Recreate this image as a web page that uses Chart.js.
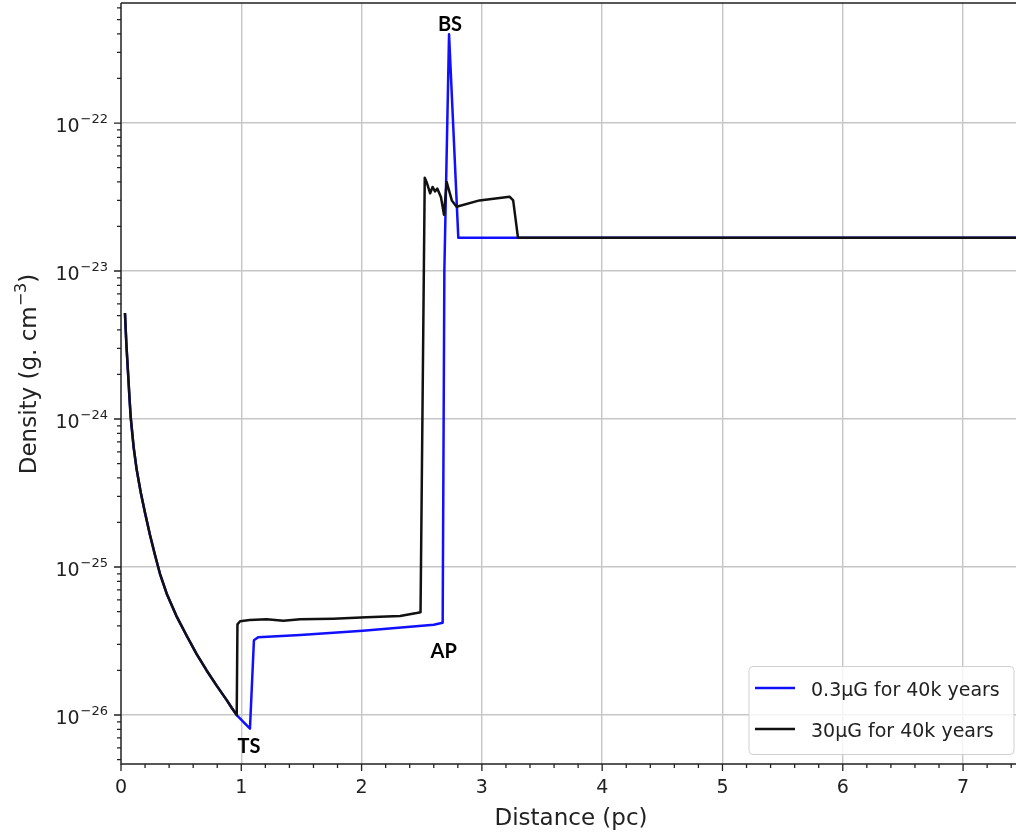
<!DOCTYPE html>
<html>
<head>
<meta charset="utf-8">
<script src="https://cdn.jsdelivr.net/npm/chart.js@4"></script>
<style>
  body { margin: 0; background: #fff; }
  canvas { display: block; }
</style>
</head>
<body>
<canvas id="myChart" width="1016" height="835"></canvas>
<script>
// 0.3 microgauss run (blue)
const distBlue = [0.033, 0.045, 0.061, 0.07, 0.081, 0.105, 0.13, 0.165, 0.20, 0.24, 0.283, 0.324, 0.38, 0.46, 0.546,
  0.63, 0.712, 0.795, 0.879, 0.92, 0.962,
  1.072, 1.105, 1.14, 1.49, 2.01, 2.60, 2.674, 2.688, 2.727, 2.804, 7.5];
const densBlue = [5.2e-24, 3.16e-24, 1.9e-24, 1.41e-24, 1.02e-24, 6.46e-25, 4.57e-25, 3.16e-25, 2.32e-25, 1.66e-25, 1.2e-25, 9.0e-26, 6.6e-26, 4.68e-26, 3.43e-26,
  2.57e-26, 2.0e-26, 1.58e-26, 1.26e-26, 1.12e-26, 1.0e-26,
  8.1e-27, 3.2e-26, 3.35e-26, 3.47e-26, 3.71e-26, 4.07e-26, 4.2e-26, 1.0e-23, 3.98e-22, 1.68e-23, 1.68e-23];

// 30 microgauss run (black)
const distBlack = [0.033, 0.045, 0.061, 0.07, 0.081, 0.105, 0.13, 0.165, 0.20, 0.24, 0.283, 0.324, 0.38, 0.46, 0.546,
  0.63, 0.712, 0.795, 0.879, 0.92, 0.962,
  0.968, 0.99, 1.07, 1.21, 1.35, 1.49, 1.765, 2.04, 2.32, 2.458, 2.49,
  2.525, 2.54, 2.57, 2.59, 2.61, 2.63, 2.66, 2.685, 2.707, 2.75, 2.79, 2.98, 3.23, 3.26, 3.30, 7.5];
const densBlack = [5.2e-24, 3.16e-24, 1.9e-24, 1.41e-24, 1.02e-24, 6.46e-25, 4.57e-25, 3.16e-25, 2.32e-25, 1.66e-25, 1.2e-25, 9.0e-26, 6.6e-26, 4.68e-26, 3.43e-26,
  2.57e-26, 2.0e-26, 1.58e-26, 1.26e-26, 1.12e-26, 1.0e-26,
  4.1e-26, 4.3e-26, 4.38e-26, 4.43e-26, 4.34e-26, 4.43e-26, 4.48e-26, 4.57e-26, 4.67e-26, 4.89e-26, 4.95e-26,
  4.27e-23, 4.0e-23, 3.35e-23, 3.7e-23, 3.45e-23, 3.6e-23, 3.15e-23, 2.4e-23, 4.0e-23, 3.0e-23, 2.72e-23, 3.0e-23, 3.18e-23, 3.0e-23, 1.68e-23, 1.68e-23];

const seriesNames = ["0.3\u03bcG for 40k years", "30\u03bcG for 40k years"];

// shock labels
const shockNames = ["TS", "AP", "BS"];
const shockDist = [1.064, 2.683, 2.735];
const shockDens = [5.53e-27, 2.43e-26, 4.19e-22];

// axes
const xTicks = [0, 1, 2, 3, 4, 5, 6, 7];
const yTickExps = [-26, -25, -24, -23, -22];
const xMax = 7.44;
const yMinExp = -26.331;
const yMaxExp = -21.189;

const toPoints = (xs, ys) => xs.map((x, i) => ({ x: x, y: ys[i] }));

//draws spines, ticks, tick labels, titles, shock labels and the legend box
const decor = {
  id: "decor",
  afterDraw: (chart) => {
    const ctx = chart.ctx;
    const area = chart.chartArea;
    const xs = chart.scales.x;
    const ys = chart.scales.y;
    ctx.save();

    // spines
    ctx.strokeStyle = "#222";
    ctx.lineWidth = 1.5;
    ctx.beginPath();
    ctx.moveTo(area.left, area.top);
    ctx.lineTo(area.right, area.top);
    ctx.moveTo(area.left, area.top);
    ctx.lineTo(area.left, area.bottom);
    ctx.lineTo(area.right, area.bottom);
    ctx.stroke();

    // x ticks
    ctx.lineWidth = 1.3;
    ctx.beginPath();
    for (let v = 0; v <= xMax + 1e-9; v += 0.2) {
      const px = xs.getPixelForValue(v);
      const major = Math.abs(v - Math.round(v)) < 1e-6;
      ctx.moveTo(px, area.bottom);
      ctx.lineTo(px, area.bottom + (major ? 7 : 4));
    }
    // y ticks
    for (let e = Math.floor(yMinExp); e <= Math.ceil(yMaxExp); e++) {
      for (let m = 1; m <= 9; m++) {
        const lv = e + Math.log10(m);
        if (lv < yMinExp || lv > yMaxExp) continue;
        const py = ys.getPixelForValue(m * Math.pow(10, e));
        ctx.moveTo(area.left, py);
        ctx.lineTo(area.left - (m === 1 ? 7 : 4), py);
      }
    }
    ctx.stroke();

    // tick labels
    ctx.fillStyle = "#222";
    ctx.font = "19px 'DejaVu Sans'";
    ctx.textAlign = "center";
    ctx.textBaseline = "alphabetic";
    xTicks.forEach((t) => {
      ctx.fillText(String(t), xs.getPixelForValue(t), area.bottom + 29);
    });
    yTickExps.forEach((e) => {
      const py = ys.getPixelForValue(Math.pow(10, e));
      const sup = "\u2212" + String(-e);
      ctx.font = "13px 'DejaVu Sans'";
      ctx.textAlign = "right";
      const supRight = area.left - 13;
      ctx.fillText(sup, supRight, py);
      const supW = ctx.measureText(sup).width;
      ctx.font = "19px 'DejaVu Sans'";
      ctx.fillText("10", supRight - supW - 1, py + 8.5);
    });

    // axis titles
    ctx.font = "23px 'DejaVu Sans'";
    ctx.textAlign = "center";
    ctx.fillText("Distance (pc)", 571, 825);

    ctx.save();
    ctx.translate(36, 374);
    ctx.rotate(-Math.PI / 2);
    const main = "Density (g. cm";
    const sup = "\u22123";
    const tail = ")";
    ctx.font = "23px 'DejaVu Sans'";
    const wMain = ctx.measureText(main).width;
    const wTail = ctx.measureText(tail).width;
    ctx.font = "16px 'DejaVu Sans'";
    const wSup = ctx.measureText(sup).width;
    let x0 = -(wMain + wSup + wTail) / 2;
    ctx.textAlign = "left";
    ctx.font = "23px 'DejaVu Sans'";
    ctx.fillText(main, x0, 0);
    ctx.font = "16px 'DejaVu Sans'";
    ctx.fillText(sup, x0 + wMain, -10);
    ctx.font = "23px 'DejaVu Sans'";
    ctx.fillText(tail, x0 + wMain + wSup, 0);
    ctx.restore();

    // shock labels
    ctx.fillStyle = "#000";
    ctx.font = "bold 20px Lato";
    ctx.textAlign = "center";
    shockNames.forEach((name, i) => {
      ctx.fillText(name, xs.getPixelForValue(shockDist[i]), ys.getPixelForValue(shockDens[i]));
    });

    // legend
    const bx = area.right - 267, by = area.bottom - 97.5, bw = 265, bh = 88, r = 4;
    ctx.beginPath();
    ctx.moveTo(bx + r, by);
    ctx.arcTo(bx + bw, by, bx + bw, by + bh, r);
    ctx.arcTo(bx + bw, by + bh, bx, by + bh, r);
    ctx.arcTo(bx, by + bh, bx, by, r);
    ctx.arcTo(bx, by, bx + bw, by, r);
    ctx.closePath();
    ctx.fillStyle = "rgba(255,255,255,0.8)";
    ctx.fill();
    ctx.strokeStyle = "#d0d0d0";
    ctx.lineWidth = 1;
    ctx.stroke();
    chart.data.datasets.forEach((ds, i) => {
      const ly = by + 21.5 + i * 41;
      ctx.strokeStyle = ds.borderColor;
      ctx.lineWidth = 2.5;
      ctx.beginPath();
      ctx.moveTo(bx + 6, ly);
      ctx.lineTo(bx + 46, ly);
      ctx.stroke();
      ctx.fillStyle = "#222";
      ctx.font = "19px 'DejaVu Sans'";
      ctx.textAlign = "left";
      ctx.fillText(ds.label, bx + 62, ly + 8);
    });

    ctx.restore();
  },
};

const ctx = document.getElementById("myChart");

new Chart(ctx, {
  type: "line",
  plugins: [decor],
  data: {
    datasets: [
      {
        label: seriesNames[0],
        data: toPoints(distBlue, densBlue),
        borderColor: "#1010ff",
        borderWidth: 2.5,
        pointRadius: 0,
        tension: 0,
        borderJoinStyle: "round",
        order: 1,
      },
      {
        label: seriesNames[1],
        data: toPoints(distBlack, densBlack),
        borderColor: "#111111",
        borderWidth: 2.5,
        pointRadius: 0,
        tension: 0,
        borderJoinStyle: "round",
        order: 0,
      },
    ],
  },
  options: {
    responsive: false,
    animation: false,
    devicePixelRatio: 1,
    layout: { padding: { top: 3, right: 0, left: 0, bottom: 0 } },
    plugins: { legend: { display: false }, tooltip: { enabled: false } },
    scales: {
      x: {
        type: "linear",
        min: 0,
        max: xMax,
        ticks: { display: false },
        border: { display: false },
        grid: {
          drawTicks: false,
          lineWidth: 1.4,
          color: (c) => (c.tick && c.tick.value === 0 ? "rgba(0,0,0,0)" : "#c6c6c6"),
        },
        afterBuildTicks: (scale) => {
          scale.ticks = xTicks.map((v) => ({ value: v }));
        },
        afterFit: (scale) => {
          scale.height = 71;
        },
      },
      y: {
        type: "logarithmic",
        min: Math.pow(10, yMinExp),
        max: Math.pow(10, yMaxExp),
        ticks: { display: false },
        border: { display: false },
        grid: { drawTicks: false, lineWidth: 1.4, color: "#c6c6c6" },
        afterBuildTicks: (scale) => {
          scale.ticks = yTickExps.map((e) => ({ value: Math.pow(10, e) }));
        },
        afterFit: (scale) => {
          scale.width = 121;
        },
      },
    },
  },
});
</script>
</body>
</html>
